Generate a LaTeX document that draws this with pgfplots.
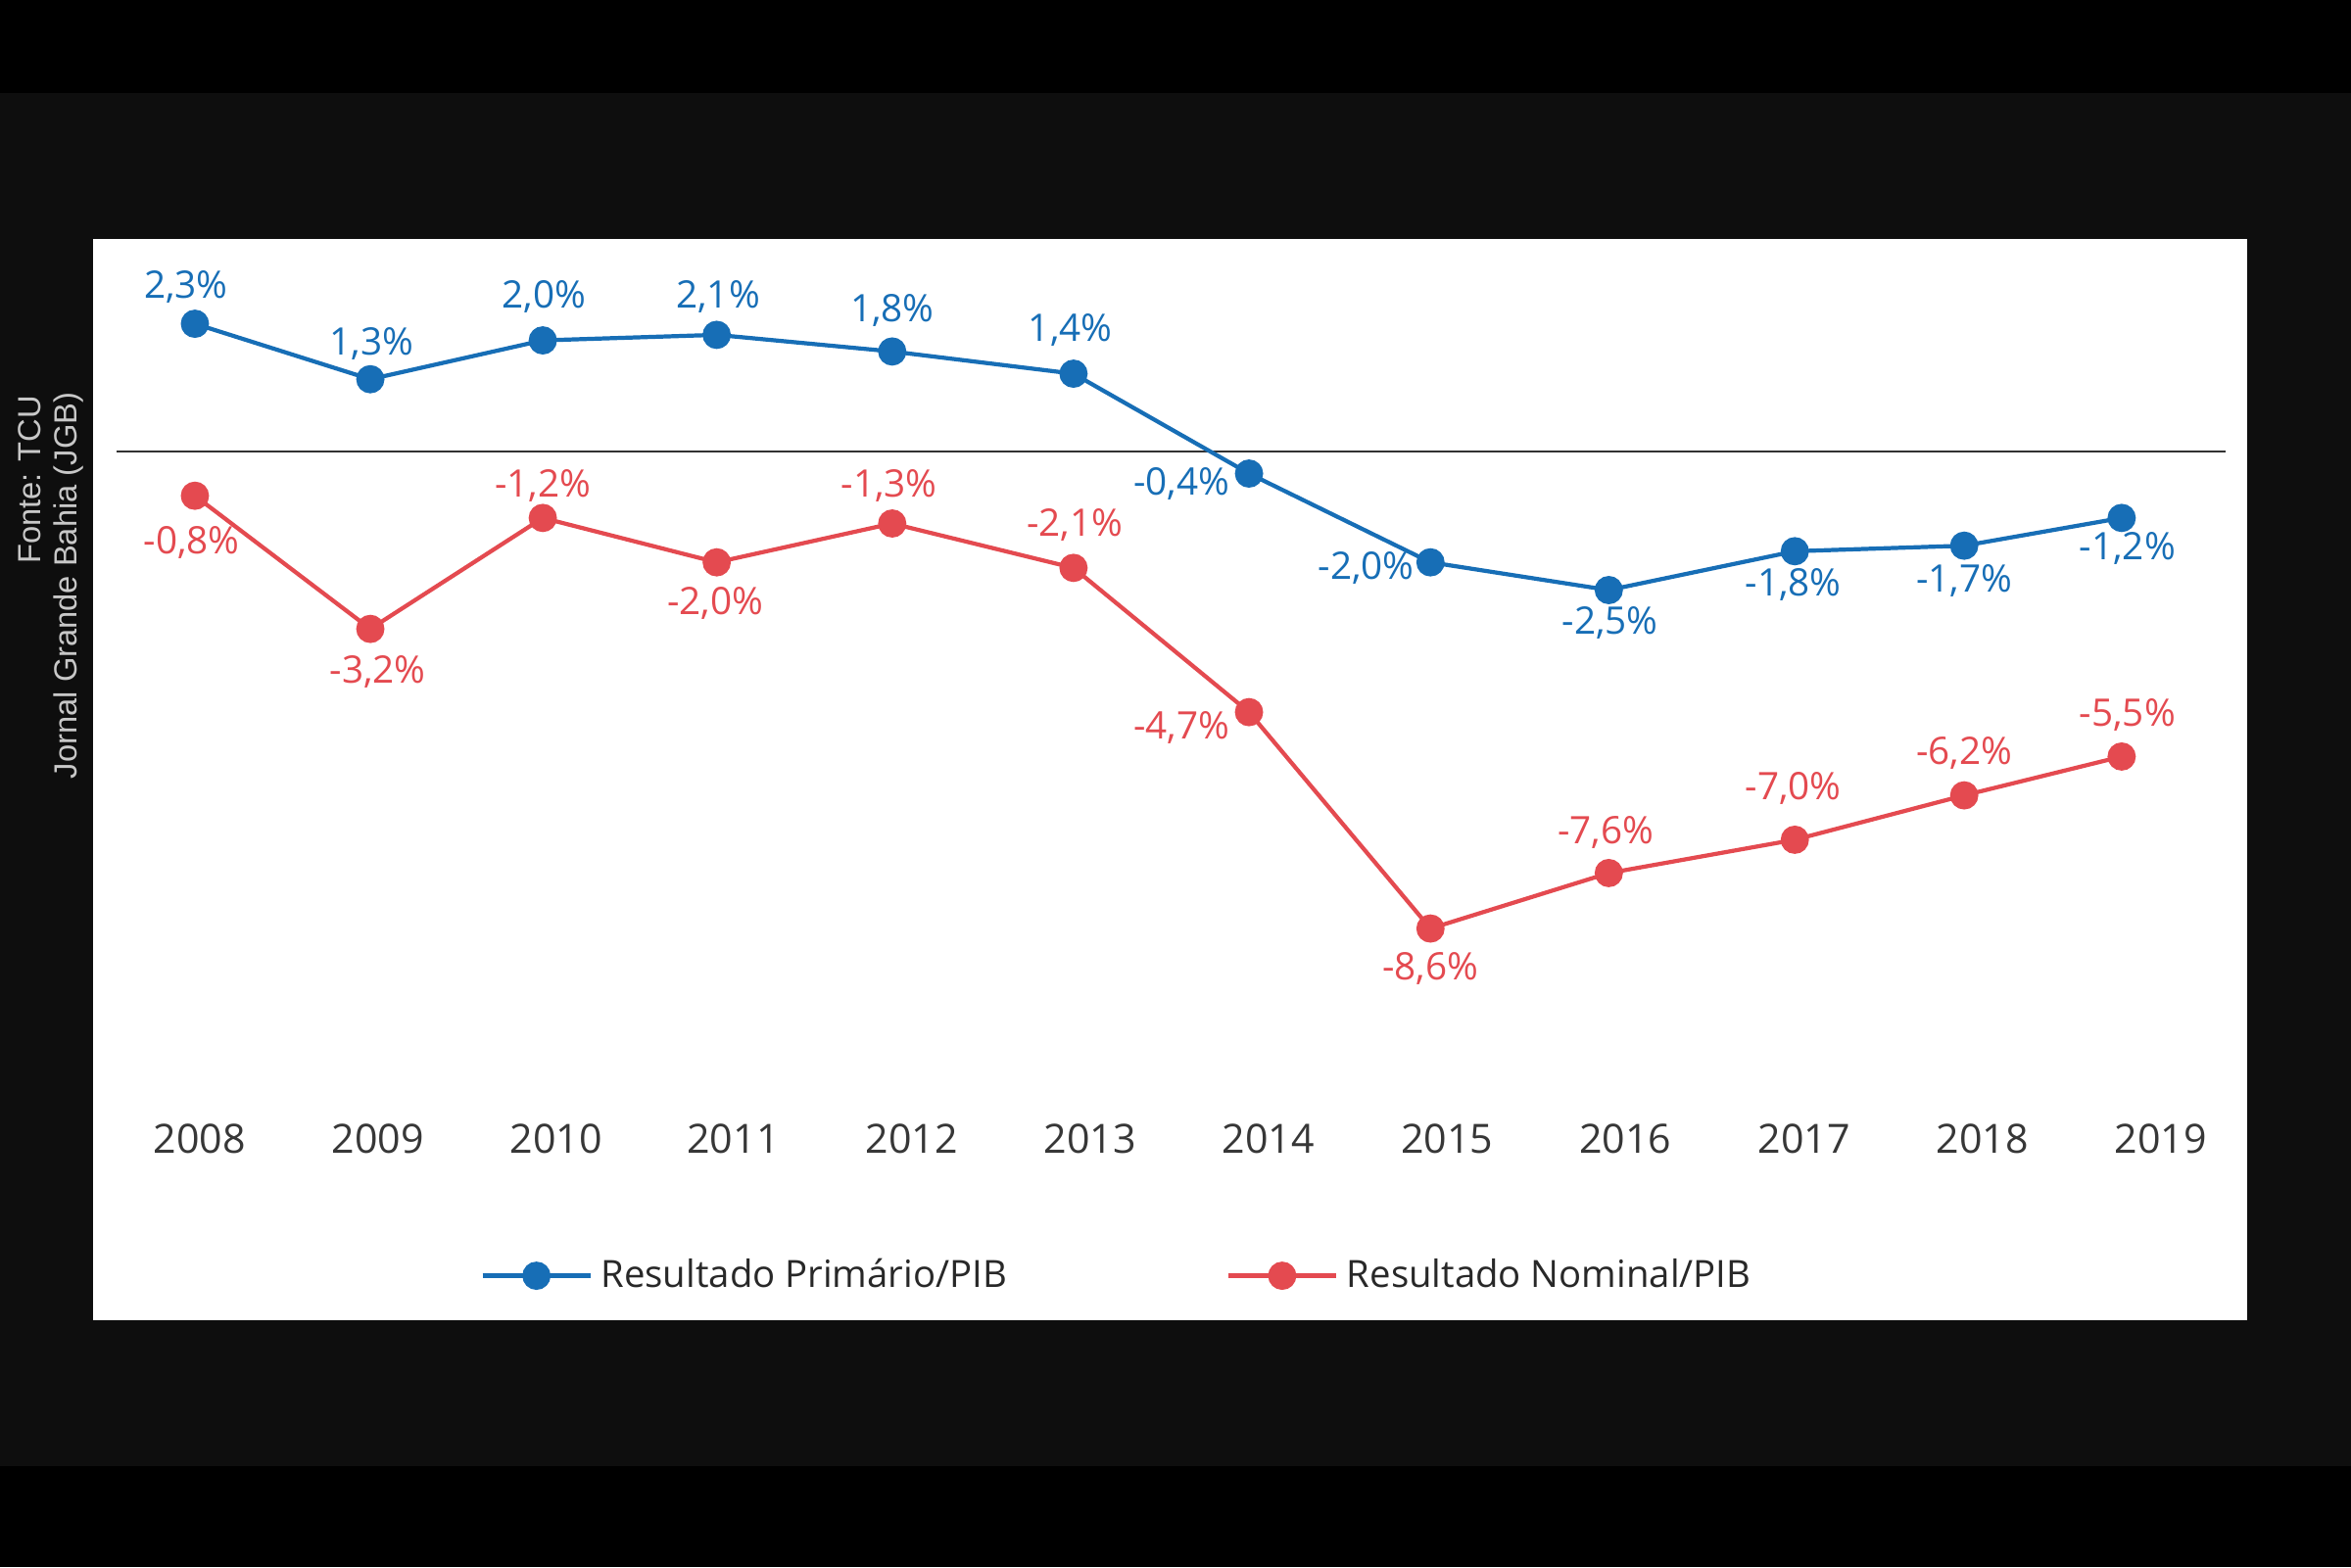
\documentclass[border=0pt]{standalone}
\usepackage{pgfplots}
\pgfplotsset{compat=1.18}
\usepackage{pgfplotstable}
\usepackage{fontspec}
\setmainfont{Open Sans}
\newfontfamily\arialfont{Liberation Sans}

\definecolor{cblue}{RGB}{23,110,182}
\definecolor{cred}{RGB}{228,74,80}
\definecolor{panelbg}{RGB}{14,14,14}
\definecolor{yeartext}{RGB}{55,55,55}
\definecolor{legtext}{RGB}{40,40,40}
\definecolor{srcgray}{RGB}{200,200,200}
\definecolor{zeroline}{RGB}{50,50,50}

% x (position of year as drawn) y label dx(pt) dy(pt)
\pgfplotstableread{
x       y    lab   dx     dy
0       2.3  2,3   -2.6   10.8
1.0015  1.3  1,3   0.4    10.4
1.986   2.0  2,0   0.4    12.6
2.979   2.1  2,1   0.4    11.0
3.981   1.8  1,8   0      11.9
5.016   1.4  1,4   -0.9   12.7
6.018   -0.4 -0,4  -19.6  -3.1
7.054   -2.0 -2,0  -18.7  -1.7
8.072   -2.5 -2,5  0.4    -9.4
9.134   -1.8 -1,8  -0.4   -9.8
10.101  -1.7 -1,7  0      -10.1
11      -1.2 -1,2  1.7    -9.0
}\primario

\pgfplotstableread{
x       y    lab   dx     dy
0       -0.8 -0,8  -0.9   -13.7
1.0015  -3.2 -3,2  2.2    -12.5
1.986   -1.2 -1,2  0      9.3
2.979   -2.0 -2,0  -0.4   -11.8
3.981   -1.3 -1,3  -0.9   10.9
5.016   -2.1 -2,1  0.4    12.5
6.018   -4.7 -4,7  -19.6  -4.4
7.054   -8.6 -8,6  0      -11.7
8.072   -7.6 -7,6  -0.9   11.8
9.134   -7.0 -7,0  -0.4   14.8
10.101  -6.2 -6,2  0      12.4
11      -5.5 -5,5  1.7    12.0
}\nominal

\begin{document}
\begin{tikzpicture}
\begin{axis}[
  set layers,
  scale only axis,
  width=24cm, height=16cm,
  xmin=-1.1128, xmax=12.3095,
  ymin=-20.108, ymax=8.135,
  clip=false,
  axis line style={draw=none},
  tick style={draw=none},
  major tick length=0pt,
  ytick=\empty,
  /pgf/number format/assume math mode=true,
  xtick={0.026,1.044,2.063,3.073,4.092,5.110,6.129,7.148,8.167,9.186,10.204,11.223},
  xticklabels={2008,2009,2010,2011,2012,2013,2014,2015,2016,2017,2018,2019},
  xticklabel style={anchor=center, yshift=4.377cm, text=yeartext, font=\fontsize{11.7}{14}\selectfont},
  legend columns=2,
  legend style={at={(0.2041,0.1859)}, anchor=west, draw=none, fill=none,
    inner sep=0pt, font=\fontsize{10.9}{13}\selectfont, text=legtext,
    /tikz/every even column/.append style={column sep=2.15cm},
    nodes={inner xsep=2.5pt}},
  legend image code/.code={\draw[mark repeat=2,mark phase=2] plot coordinates {(0cm,0cm) (0.55cm,0cm) (1.1cm,0cm)};},
]
% backgrounds
\begin{pgfonlayer}{axis background}
\fill[black] (rel axis cs:0,0) rectangle (rel axis cs:1,1);
\fill[panelbg] (rel axis cs:0,0.0644) rectangle (rel axis cs:1,0.9406);
\fill[white] (rel axis cs:0.0396,0.1575) rectangle (rel axis cs:0.9558,0.8475);
% zero line
\draw[zeroline, line width=0.6pt] (axis cs:-0.445,0) -- (axis cs:11.591,0);
% source text
\node[rotate=90, anchor=east, inner sep=0pt, text=srcgray, font=\arialfont\fontsize{9.3}{11}\selectfont]
  at (axis cs:-0.945,1.019) {Fonte: TCU};
\node[rotate=90, anchor=east, inner sep=0pt, text=srcgray, font=\arialfont\fontsize{9.3}{11}\selectfont]
  at (axis cs:-0.7216,1.073) {Jornal Grande Bahia (JGB)};
\end{pgfonlayer}

\addplot[color=cblue, line width=1.2pt, mark=*, mark size=3.5pt,
  mark options={solid, fill=cblue},
  point meta=explicit symbolic,
  nodes near coords={\pgfplotspointmeta\%},
  visualization depends on={\thisrow{dx} \as \dx},
  visualization depends on={\thisrow{dy} \as \dy},
  every node near coord/.append style={anchor=center, xshift=\dx pt, yshift=\dy pt,
    text=cblue, font=\fontsize{11}{13}\selectfont}]
  table[x=x, y=y, meta=lab] {\primario};
\addlegendentry{Resultado Primário/PIB}

\addplot[color=cred, line width=1.2pt, mark=*, mark size=3.5pt,
  mark options={solid, fill=cred},
  point meta=explicit symbolic,
  nodes near coords={\pgfplotspointmeta\%},
  visualization depends on={\thisrow{dx} \as \dx},
  visualization depends on={\thisrow{dy} \as \dy},
  every node near coord/.append style={anchor=center, xshift=\dx pt, yshift=\dy pt,
    text=cred, font=\fontsize{11}{13}\selectfont}]
  table[x=x, y=y, meta=lab] {\nominal};
\addlegendentry{Resultado Nominal/PIB}
\end{axis}
\end{tikzpicture}
\end{document}
